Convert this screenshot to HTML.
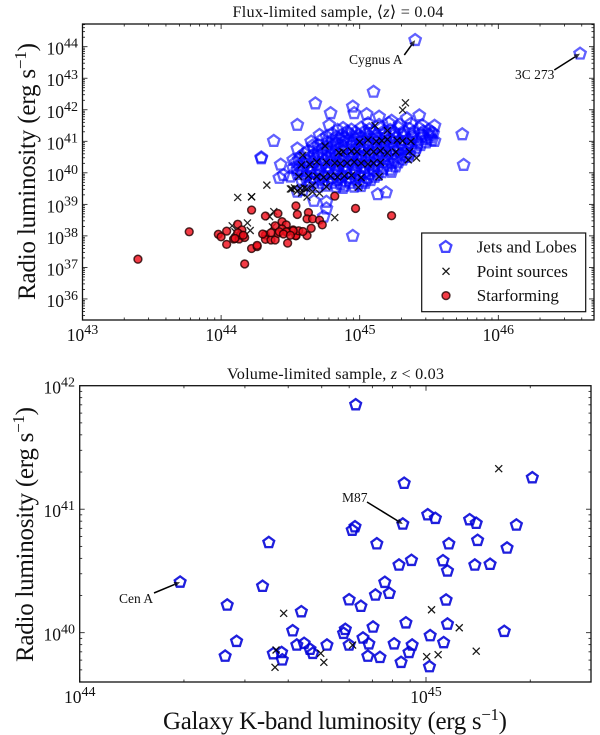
<!DOCTYPE html>
<html>
<head>
<meta charset="utf-8">
<title>Radio luminosity vs galaxy K-band luminosity</title>
<style>
html,body{margin:0;padding:0;background:#fff;width:600px;height:735px;overflow:hidden}
svg{display:block;font-family:"Liberation Serif","DejaVu Serif",serif;fill:#111;filter:blur(0.35px)}
</style>
</head>
<body>
<svg id="fig" width="600" height="735" viewBox="0 0 600 735" xmlns="http://www.w3.org/2000/svg">
  <rect width="600" height="735" fill="#fff"/>
  <g id="top-panel"></g>
  <g id="bottom-panel"></g>
  <text x="338" y="17" text-anchor="middle" font-size="16.2" textLength="211" lengthAdjust="spacing">Flux-limited sample, ⟨<tspan font-style="italic">z</tspan>⟩ = 0.04</text>
  <text x="335.5" y="379" text-anchor="middle" font-size="16.2" textLength="217" lengthAdjust="spacing">Volume-limited sample, <tspan font-style="italic">z</tspan> &lt; 0.03</text>
  <text transform="translate(35,300) rotate(-90)" font-size="25" textLength="257" lengthAdjust="spacing">Radio luminosity (erg s<tspan dy="-9" font-size="17">−1</tspan><tspan dy="9">)</tspan></text>
  <text transform="translate(33,662) rotate(-90)" font-size="25" textLength="255" lengthAdjust="spacing">Radio luminosity (erg s<tspan dy="-9" font-size="17">−1</tspan><tspan dy="9">)</tspan></text>
  <text x="163" y="729" font-size="25" textLength="344" lengthAdjust="spacing">Galaxy K-band luminosity (erg s<tspan dy="-9" font-size="17">−1</tspan><tspan dy="9">)</tspan></text>
</svg>
<script>
// All values are log10(luminosity / erg s^-1).
const topXTicks = [43, 44, 45, 46];
const topYTicks = [36, 37, 38, 39, 40, 41, 42, 43, 44];
const bottomXTicks = [44, 45];
const bottomYTicks = [40, 41, 42];

const topJets = [
  [45.40,44.21],[46.59,43.78],
  [45.10,42.57],[44.68,42.20],[44.95,42.10],[44.96,41.89],[44.79,41.89],[45.05,41.86],[45.14,41.78],[45.43,41.82],
  [45.23,41.65],[45.34,41.73],[44.55,41.52],[44.78,41.52],[45.54,41.49],[45.74,41.22],[44.38,41.01],[45.54,41.01],
  [44.29,40.49],[44.29,40.46],[44.55,40.77],[44.65,40.99],[44.66,40.86],[44.71,41.20],[44.76,41.15],[44.84,41.36],
  [44.52,40.41],[44.43,40.26],[44.45,39.93],[44.42,39.84],[45.75,40.25],[45.23,40.03],[45.13,39.32],[45.19,39.38],
  [44.95,38.00],[44.76,39.08],[44.76,38.87],[44.74,38.61],[44.67,39.11],[44.59,39.45],[44.88,39.52],[44.50,39.88],
  [44.55,40.09],[44.55,39.40],[45.35,40.51],
  [45.06,41.57],[45.14,41.52],[45.21,41.58],[45.29,41.53],[45.37,41.56],[45.45,41.51],
  [44.88,41.42],[44.94,41.37],[45.01,41.43],[45.07,41.38],[45.15,41.41],[45.22,41.36],[45.28,41.43],[45.36,41.39],[45.43,41.41],[45.50,41.36],
  [44.80,41.24],[44.87,41.20],[44.92,41.25],[44.99,41.19],[45.05,41.23],[45.12,41.20],[45.18,41.25],[45.25,41.21],[45.31,41.24],[45.38,41.19],[45.44,41.23],[45.50,41.20],[45.53,41.25],
  [44.73,41.06],[44.80,41.02],[44.85,41.08],[44.91,41.03],[44.97,41.07],[45.03,41.02],[45.10,41.06],[45.16,41.03],[45.22,41.08],[45.29,41.04],[45.35,41.06],[45.41,41.02],[45.48,41.07],[45.52,41.03],
  [44.70,40.88],[44.76,40.84],[44.82,40.89],[44.88,40.85],[44.94,40.87],[45.00,40.83],[45.06,40.88],[45.13,40.84],[45.19,40.89],[45.25,40.85],[45.31,40.87],[45.37,40.83],[45.44,40.88],
  [44.63,40.70],[44.70,40.66],[44.76,40.71],[44.82,40.67],[44.88,40.69],[44.95,40.65],[45.01,40.70],[45.07,40.66],[45.13,40.71],[45.19,40.67],[45.26,40.69],[45.33,40.66],[45.40,40.70],
  [44.57,40.51],[44.64,40.48],[44.70,40.53],[44.77,40.48],[44.83,40.52],[44.89,40.47],[44.95,40.51],[45.01,40.48],[45.08,40.53],[45.14,40.49],[45.20,40.52],[45.27,40.48],[45.33,40.51],
  [44.54,40.33],[44.60,40.30],[44.66,40.34],[44.73,40.29],[44.79,40.33],[44.85,40.30],[44.92,40.35],[44.98,40.31],[45.04,40.33],[45.10,40.29],[45.17,40.34],[45.23,40.30],[45.28,40.33],
  [44.52,40.15],[44.59,40.11],[44.65,40.14],[44.71,40.10],[44.78,40.15],[44.84,40.12],[44.90,40.14],[44.97,40.10],[45.03,40.15],[45.10,40.11],[45.17,40.13],[45.22,40.10],
  [44.55,39.96],[44.62,39.93],[44.68,39.97],[44.74,39.92],[44.81,39.96],[44.87,39.94],[44.94,39.97],[45.00,39.93],[45.07,39.96],[45.13,39.93],
  [44.58,39.78],[44.64,39.74],[44.71,39.78],[44.77,39.75],[44.84,39.77],[44.90,39.73],[44.97,39.78],[45.03,39.74],[45.08,39.77],
  [44.63,39.60],[44.70,39.56],[44.76,39.59],[44.83,39.55],[44.89,39.59],[44.96,39.56],[45.01,39.58]
];

// Densest part of the flux-limited cloud, where individual markers merge.
const topJetsCore = [
  [44.91,41.31],[44.97,41.29],[45.04,41.32],[45.10,41.30],[45.18,41.33],[45.25,41.29],[45.32,41.32],[45.39,41.30],[45.46,41.31],[45.52,41.29],
  [44.83,41.14],[44.89,41.12],[44.95,41.15],[45.01,41.13],[45.07,41.15],[45.13,41.12],[45.19,41.14],[45.26,41.12],[45.32,41.15],[45.38,41.13],[45.45,41.14],[45.51,41.12],
  [44.77,40.97],[44.83,40.95],[44.88,40.98],[44.94,40.96],[45.00,40.97],[45.06,40.94],[45.12,40.97],[45.18,40.95],[45.24,40.97],[45.30,40.94],[45.36,40.96],[45.42,40.94],[45.48,40.96],
  [44.67,40.79],[44.73,40.76],[44.79,40.79],[44.85,40.76],[44.91,40.78],[44.97,40.75],[45.03,40.78],[45.10,40.76],[45.16,40.79],[45.22,40.76],[45.28,40.78],[45.34,40.76],[45.41,40.79],
  [44.60,40.61],[44.67,40.58],[44.73,40.61],[44.79,40.57],[44.85,40.60],[44.92,40.57],[44.98,40.60],[45.04,40.57],[45.10,40.61],[45.16,40.58],[45.23,40.60],[45.30,40.57],[45.36,40.60],
  [44.56,40.42],[44.62,40.39],[44.68,40.43],[44.75,40.39],[44.81,40.42],[44.87,40.39],[44.94,40.43],[45.00,40.40],[45.06,40.42],[45.12,40.39],[45.18,40.43],[45.25,40.39],[45.31,40.42],
  [44.56,40.23],[44.63,40.20],[44.69,40.24],[44.76,40.20],[44.82,40.23],[44.88,40.21],[44.95,40.24],[45.01,40.20],[45.07,40.23],[45.13,40.20],[45.20,40.22],[45.26,40.20],
  [44.58,40.05],[44.65,40.02],[44.71,40.05],[44.77,40.01],[44.84,40.05],[44.90,40.02],[44.97,40.04],[45.03,40.01],[45.10,40.05],[45.16,40.02],
  [44.61,39.87],[44.67,39.84],[44.74,39.87],[44.80,39.84],[44.87,39.87],[44.93,39.84],[45.00,39.86],[45.06,39.84],[45.11,39.87],
  [44.67,39.69],[44.73,39.66],[44.80,39.68],[44.86,39.65],[44.93,39.68],[44.99,39.65],[45.04,39.68]
];

const topPoints = [
  [45.33,42.22],[45.31,41.99],[45.11,41.50],[45.20,41.34],[44.75,40.85],[45.06,41.04],[45.12,41.00],[45.20,41.06],[45.31,41.01],[45.37,41.00],
  [45.36,40.67],[45.35,40.41],[45.41,40.47],[44.88,40.67],[44.98,40.67],[45.10,40.67],[45.20,40.63],[44.59,40.56],[44.69,40.35],[44.58,40.25],
  [44.82,40.31],[44.91,40.31],[45.01,40.31],[45.10,40.31],[44.56,39.88],[44.69,39.88],[44.79,39.90],[44.89,39.90],[45.01,39.85],[45.14,39.88],
  [44.51,39.49],[44.57,39.50],[44.62,39.49],[44.62,39.23],[44.71,39.35],[44.76,39.56],[44.99,39.54],[44.33,39.61],[44.22,39.24],[44.82,38.58],
  [44.12,39.22],[44.22,39.24],[44.50,39.49],[44.08,38.32],[44.19,38.41],[44.21,38.17],[44.10,38.13],[44.38,38.77],[44.35,38.61],[44.37,38.29],
  [44.85,40.64],[44.94,40.69],[45.05,40.64],[45.15,40.70],[45.26,40.66],[44.76,40.33],[44.86,40.29],[44.96,40.34],[45.06,40.28],[45.15,40.33],
  [44.63,39.90],[44.74,39.86],[44.84,39.87],[44.94,39.92],[45.27,41.03],[45.16,41.02],[45.00,40.98],[44.64,40.27],[44.60,39.52],[44.66,39.60],
  [44.53,39.52],[44.55,39.42],[44.58,39.36],[44.66,39.40]
];

const topStarforming = [
  [43.40,37.26],[43.77,38.13],[43.98,38.05],[44.00,37.97],[44.04,38.15],[44.04,37.73],[44.09,37.90],[44.12,38.37],[44.13,37.90],[44.15,38.19],
  [44.17,37.95],[44.14,38.03],[44.17,37.11],[44.22,37.60],[44.26,37.66],[44.22,38.82],[44.32,38.63],[44.41,38.71],[44.32,38.03],[44.32,37.89],
  [44.36,37.87],[44.39,37.87],[44.39,38.32],[44.41,38.08],[44.44,38.45],[44.47,38.35],[44.44,38.22],[44.48,38.13],[44.48,37.77],[44.52,38.19],
  [44.54,38.00],[44.54,38.95],[44.55,38.68],[44.82,39.26],[44.97,38.87],[45.23,38.64],[44.63,38.74],[44.62,38.54],[44.66,38.54],[44.71,38.50],
  [44.73,38.35],[44.65,38.24],[44.62,38.01],[44.54,38.01],[44.56,38.16],[44.52,38.16],[44.47,38.13],[44.42,38.13],[44.30,38.06],[44.26,37.70],
  [44.12,38.10],[44.16,38.02],[44.10,37.92],[44.36,38.10],[44.45,38.06],[44.50,38.02],[44.59,38.14]
];

const bottomJets = [
  [44.29,40.41],[44.546,40.73],[44.528,40.376],[44.426,40.224],[44.453,39.93],[44.42,39.81],[44.615,40.016],[44.64,40.17],[44.627,39.90],[44.559,39.83],
  [44.583,39.84],[44.585,39.78],[44.797,41.846],[44.937,41.21],[44.933,40.88],[45.005,40.955],[45.027,40.926],[45.126,40.915],[45.145,40.886],[45.261,40.872],
  [45.307,41.255],[44.795,40.858],[44.787,40.83],[44.858,40.72],[45.066,40.72],[45.149,40.748],[45.234,40.686],[44.922,40.548],[44.958,40.586],[45.049,40.583],
  [45.062,40.50],[45.141,40.548],[45.185,40.554],[44.881,40.408],[44.894,40.319],[44.854,40.305],[44.778,40.267],[44.812,40.214],[45.058,40.265],[44.942,40.08],
  [45.062,40.07],[44.847,40.046],[44.767,40.027],[44.762,39.995],[45.226,40.011],[45.012,39.976],[45.051,39.92],[44.908,39.91],[44.96,39.90],[44.818,39.957],
  [44.835,39.91],[44.778,39.90],[44.714,39.90],[44.648,39.914],[44.665,39.866],[44.673,39.833],[44.951,39.84],[44.832,39.81],[44.867,39.80],[44.928,39.76],
  [45.01,39.725]
];

const bottomPoints = [
  [44.589,40.157],[44.567,39.86],[44.564,39.72],[45.21,41.328],[45.016,40.186],[45.096,40.04],[44.788,39.90],[44.696,39.833],[44.705,39.76],[45.002,39.806],
  [45.035,39.822],[45.145,39.85]
];

const legendLabels = ["Jets and Lobes", "Point sources", "Starforming"];

const NS = "http://www.w3.org/2000/svg";
const topX = v => 82.5 + (v - 43) * 138.6;
const topY = v => 46.7 + (44 - v) * 31.53;
const botX = v => 79.7 + (v - 44) * 346.3;
const botY = v => 385.7 + (42 - v) * 123.5;

function make(tag, parent, attrs) {
  const el = document.createElementNS(NS, tag);
  for (const k in attrs) el.setAttribute(k, attrs[k]);
  parent.appendChild(el);
  return el;
}

function pentagonPoints(cx, cy, r) {
  const pts = [];
  for (let i = 0; i < 5; i++) {
    const a = -Math.PI / 2 + i * 2 * Math.PI / 5;
    pts.push((cx + r * Math.cos(a)).toFixed(2) + "," + (cy + r * Math.sin(a)).toFixed(2));
  }
  return pts.join(" ");
}

function drawJet(parent, cx, cy, color, opacity, r) {
  const el = make("polygon", parent, {
    points: pentagonPoints(cx, cy, r), fill: "none", stroke: color,
    "stroke-opacity": opacity, "stroke-width": 2.3
  });
  
  
}

function drawCross(parent, cx, cy, opacity) {
  const s = 3.5;
  const el = make("path", parent, {
    d: `M${cx - s} ${cy - s}L${cx + s} ${cy + s}M${cx - s} ${cy + s}L${cx + s} ${cy - s}`,
    fill: "none", stroke: "#000", "stroke-opacity": opacity, "stroke-width": 1.3
  });
  
  
}

function drawStar(parent, cx, cy) {
  const el = make("circle", parent, {
    cx: cx, cy: cy, r: 3.9, fill: "#f0101c", "fill-opacity": 0.82,
    stroke: "#200", "stroke-opacity": 0.8, "stroke-width": 1.5
  });
  
  
}

function drawFrame(parent, box, xTicks, yTicks, sx, sy, xMinMax, yMinMax, labelFont) {
  const ticks = make("g", parent, { stroke: "#111", "stroke-width": 0.8, fill: "none" });
  
  
  const tick = (x1, y1, x2, y2) => make("line", ticks, { x1, y1, x2, y2 });
  for (let d = xMinMax[0]; d < xMinMax[1]; d++) {
    for (let m = 1; m < 10; m++) {
      const v = d + Math.log10(m);
      if (v > xMinMax[1]) continue;
      const x = sx(v), len = m === 1 ? 5 : 2.5;
      tick(x, box.bottom, x, box.bottom - len);
      tick(x, box.top, x, box.top + len);
    }
  }
  for (let d = Math.floor(yMinMax[0]); d < yMinMax[1]; d++) {
    for (let m = 1; m < 10; m++) {
      const v = d + Math.log10(m);
      if (v < yMinMax[0] || v > yMinMax[1]) continue;
      const y = sy(v), len = m === 1 ? 5 : 2.5;
      tick(box.left, y, box.left + len, y);
      tick(box.right, y, box.right - len, y);
    }
  }
  const frame = make("rect", parent, {
    x: box.left, y: box.top, width: box.right - box.left, height: box.bottom - box.top,
    fill: "none", stroke: "#111", "stroke-width": 1.3
  });
  
  

  xTicks.forEach(e => {
    const t = make("text", parent, { x: sx(e) + labelFont.xShift, y: labelFont.xBase, "font-size": 17.5, "text-anchor": "middle" });
    
    
    t.textContent = "10";
    const s = make("tspan", t, { "font-size": 14, dy: -7 });
    s.textContent = String(e);
  });
  yTicks.forEach(e => {
    const t = make("text", parent, { x: labelFont.yRight, y: sy(e) + 8, "font-size": 17.5, "text-anchor": "end" });
    
    
    t.textContent = "10";
    const s = make("tspan", t, { "font-size": 14, dy: -7 });
    s.textContent = String(e);
  });
}

function annotate(parent, label, tx, ty, x1, y1, x2, y2) {
  const g = make("g", parent, {});
  
  
  const ang = Math.atan2(y2 - y1, x2 - x1), h = 6, w = 2.6;
  const bx = x2 - h * Math.cos(ang), by = y2 - h * Math.sin(ang);
  make("line", g, { x1, y1, x2: bx, y2: by, stroke: "#000", "stroke-width": 1.5 });
  make("polygon", g, {
    points: `${x2},${y2} ${bx - w * Math.sin(ang)},${by + w * Math.cos(ang)} ${bx + w * Math.sin(ang)},${by - w * Math.cos(ang)}`,
    fill: "#000", "fill-opacity": 0.75
  });
  const t = make("text", g, { x: tx, y: ty, "font-size": 13.5 });
  t.textContent = label;
}

// ---------- top panel ----------
const topG = document.getElementById("top-panel");
const topBox = { left: 82.5, right: 594, top: 24, bottom: 320 };
topJets.forEach(p => drawJet(topG, topX(p[0]), topY(p[1]), "#0000ff", 0.62, 6));
topJetsCore.forEach(p => drawJet(topG, topX(p[0]), topY(p[1]), "#0000ff", 0.62, 6));
topPoints.forEach(p => drawCross(topG, topX(p[0]), topY(p[1]), 0.85));
topStarforming.forEach(p => drawStar(topG, topX(p[0]), topY(p[1])));
drawFrame(topG, topBox, topXTicks, topYTicks, topX, topY, [43, 46.69], [35.33, 44.72],
  { xBase: 341, xShift: 0, yRight: 78 });
annotate(topG, "Cygnus A", 349, 64, 404.3, 55, topX(45.40), topY(44.21));
annotate(topG, "3C 273", 515, 79, 554.3, 70, topX(46.59), topY(43.78));

// legend
const legend = make("g", topG, {});


const legendBox = make("rect", legend, { x: 421.7, y: 233, width: 164, height: 78.7, fill: "#fff", stroke: "#111", "stroke-width": 1.2 });


legendLabels.forEach((label, i) => {
  const y = 247 + i * 24.3;
  if (i === 0) drawJet(legend, 445.7, y, "#0000ff", 0.72, 6);
  if (i === 1) drawCross(legend, 446, y, 0.9);
  if (i === 2) drawStar(legend, 446, y);
  const t = make("text", legend, { x: 476.7, y: y + 5.5, "font-size": 17 });
  
  
  t.textContent = label;
});

// ---------- bottom panel ----------
const botG = document.getElementById("bottom-panel");
const botBox = { left: 79.7, right: 591, top: 385.7, bottom: 682 };
bottomJets.forEach(p => drawJet(botG, botX(p[0]), botY(p[1]), "#0000d8", 0.88, 5.7));
bottomPoints.forEach(p => drawCross(botG, botX(p[0]), botY(p[1]), 0.9));
drawFrame(botG, botBox, bottomXTicks, bottomYTicks, botX, botY, [44, 45.476], [39.6, 42],
  { xBase: 703, xShift: 0, yRight: 75 });
annotate(botG, "Cen A", 119, 603, 154, 593, botX(44.29), botY(40.41));
annotate(botG, "M87", 342, 502, 367, 502, botX(44.933), botY(40.88));
</script>
</body>
</html>
